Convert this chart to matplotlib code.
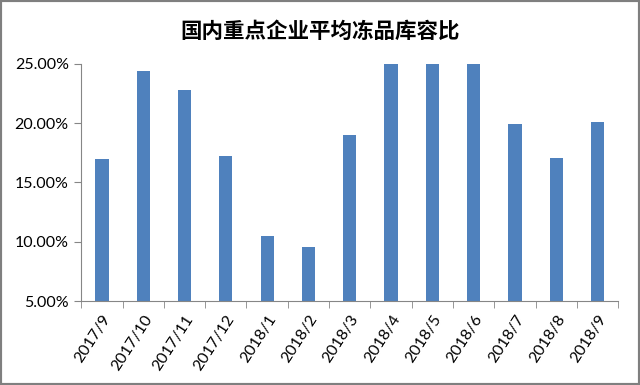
import matplotlib
matplotlib.use('Agg')
import matplotlib.pyplot as plt
import numpy as np
from matplotlib.ticker import PercentFormatter
from matplotlib.patches import Rectangle

plt.rcParams['font.family'] = ['Lato', 'Noto Sans CJK SC', 'DejaVu Sans']

months = ['2017/9', '2017/10', '2017/11', '2017/12', '2018/1', '2018/2', '2018/3',
          '2018/4', '2018/5', '2018/6', '2018/7', '2018/8', '2018/9']
ratio = [17.0, 24.4, 22.8, 17.2, 10.5, 9.6, 19.0, 25.0, 25.0, 25.0, 19.9, 17.1, 20.1]

fig = plt.figure(figsize=(6.4, 3.85), dpi=100)
ax = fig.add_axes([0.127, 0.218, 0.839, 0.616])

x = np.arange(len(months))
ax.bar(x, ratio, width=0.32, color='#4F81BD')

ax.set_ylim(5, 25)
ax.set_xlim(-0.5, len(months) - 0.5)
ax.set_yticks([5, 10, 15, 20, 25])
ax.yaxis.set_major_formatter(PercentFormatter(decimals=2))

ax.set_xticks(x)
ax.set_xticklabels(months, rotation=57, ha='right', rotation_mode='anchor')
ax.set_xticks(np.arange(-0.5, len(months)), minor=True)
ax.tick_params(axis='x', which='major', length=0, pad=8, labelsize=11.5)
ax.tick_params(axis='x', which='minor', length=5, color='#868686')
ax.tick_params(axis='y', length=5, color='#868686', labelsize=11.5, pad=4)

for s in ['top', 'right']:
    ax.spines[s].set_visible(False)
for s in ['left', 'bottom']:
    ax.spines[s].set_color('#868686')

fig.suptitle('国内重点企业平均冻品库容比', y=0.945, fontsize=15.5,
             family=['Noto Sans CJK SC', 'DejaVu Sans'], fontweight='bold')

fig.patches.append(Rectangle((0, 0), 1, 1, transform=fig.transFigure,
                             fill=False, edgecolor='#7f7f7f', linewidth=3))

fig.savefig('out.png', dpi=100)
